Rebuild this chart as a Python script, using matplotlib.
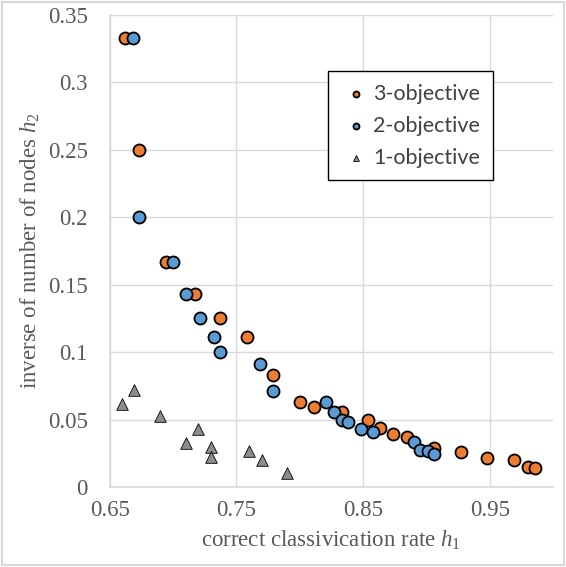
import matplotlib
matplotlib.use("Agg")
import matplotlib.pyplot as plt
from matplotlib.patches import Rectangle

plt.rcParams["font.family"] = ["Liberation Serif"]
plt.rcParams["mathtext.fontset"] = "custom"
plt.rcParams["mathtext.it"] = "Liberation Serif:italic"
plt.rcParams["mathtext.rm"] = "Liberation Serif"

# 3-objective (orange)
x3 = [0.662, 0.673, 0.694, 0.717, 0.737, 0.758, 0.779, 0.800, 0.811, 0.833,
      0.854, 0.863, 0.874, 0.885, 0.906, 0.927, 0.948, 0.969, 0.980, 0.986]
y3 = [0.333, 0.250, 0.167, 0.143, 0.125, 0.111, 0.0833, 0.063, 0.0593, 0.0556,
      0.050, 0.0437, 0.039, 0.037, 0.029, 0.026, 0.0215, 0.020, 0.015, 0.014]

# 2-objective (blue)
x2 = [0.668, 0.673, 0.700, 0.710, 0.721, 0.732, 0.737, 0.769, 0.779, 0.821,
      0.827, 0.833, 0.838, 0.848, 0.858, 0.890, 0.895, 0.901, 0.906]
y2 = [0.333, 0.200, 0.167, 0.143, 0.125, 0.111, 0.100, 0.091, 0.0714, 0.063,
      0.0556, 0.050, 0.048, 0.043, 0.041, 0.0333, 0.0273, 0.0267, 0.0245]

# 1-objective (grey triangles)
x1 = [0.6595, 0.6695, 0.690, 0.710, 0.720, 0.730, 0.730, 0.760, 0.770, 0.790]
y1 = [0.0614, 0.072, 0.0527, 0.0327, 0.043, 0.030, 0.0225, 0.0267, 0.020, 0.0104]

xticks = [0.65, 0.75, 0.85, 0.95]
yticks = [0, 0.05, 0.1, 0.15, 0.2, 0.25, 0.3, 0.35]
ylabels = ["0", "0.05", "0.1", "0.15", "0.2", "0.25", "0.3", "0.35"]

grid_c = "#d9d9d9"
txt_c = "#595959"

fig = plt.figure(figsize=(5.66, 5.67), dpi=100)
ax = fig.add_axes([0.194, 0.141, 0.783, 0.833])

ax.scatter(x3, y3, s=75, c="#ED7D31", edgecolors="black", linewidths=1.3,
           label="3-objective", zorder=3)
ax.scatter(x2, y2, s=75, c="#5B9BD5", edgecolors="black", linewidths=1.3,
           label="2-objective", zorder=4)
ax.scatter(x1, y1, s=70, marker="^", c="#8c8c8c", edgecolors="black",
           linewidths=0.6, label="1-objective", zorder=3)

ax.set_xlim(0.65, 1.0)
ax.set_ylim(0, 0.35)
tick_font = dict(family="Liberation Serif", size=16.5, color=txt_c)
ax.set_xticks(xticks)
ax.set_xticklabels([str(t) for t in xticks], fontdict=tick_font)
ax.set_yticks(yticks)
ax.set_yticklabels(ylabels, fontdict=tick_font)
ax.grid(True, color=grid_c, lw=1)
ax.set_axisbelow(True)
for s in ["top", "right"]:
    ax.spines[s].set_visible(False)
for s in ["left", "bottom"]:
    ax.spines[s].set_color(grid_c)
    ax.spines[s].set_linewidth(1.2)
ax.tick_params(length=0)
ax.tick_params(axis="x", pad=9)
ax.tick_params(axis="y", pad=16)

ax.set_xlabel("correct classivication rate $h_1$", fontsize=16.5,
              color=txt_c, labelpad=6)
ax.set_ylabel("inverse of number of nodes $h_2$", fontsize=16.5,
              color=txt_c, labelpad=4)

leg = ax.legend(loc="upper left", bbox_to_anchor=(0.492, 0.881),
                prop={"family": "Lato", "size": 15.5}, fancybox=False,
                framealpha=1, edgecolor="black", markerscale=0.5,
                handletextpad=0.1, borderpad=0.6, labelspacing=0.55,
                handlelength=1.4, borderaxespad=0)
leg.get_frame().set_linewidth(1)
for t in leg.get_texts():
    t.set_color("#404040")

fig.patches.append(Rectangle((0.004, 0.004), 0.992, 0.992, transform=fig.transFigure,
                             fill=False, edgecolor=grid_c, lw=1.5))

fig.savefig("out.png", dpi=100)
